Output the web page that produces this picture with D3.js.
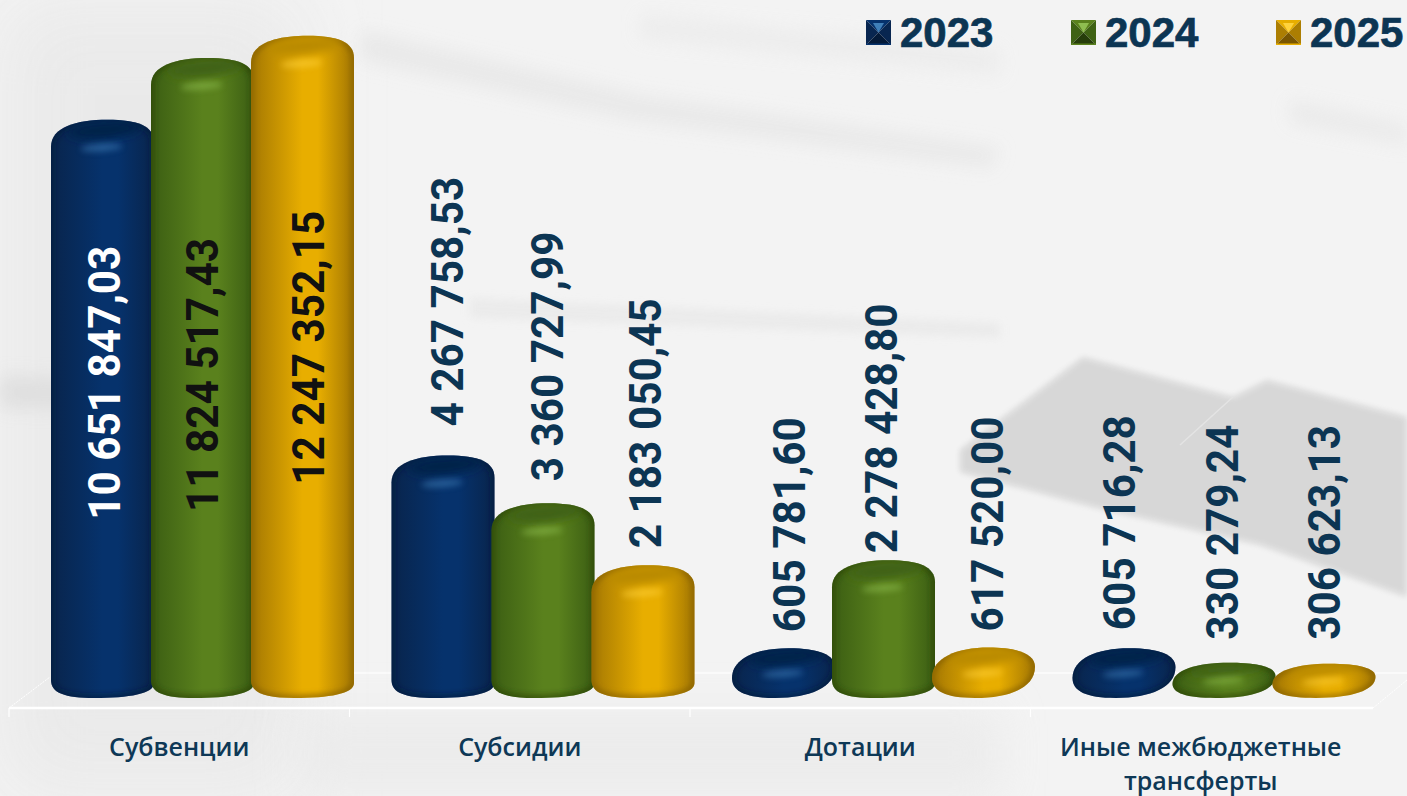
<!DOCTYPE html>
<html>
<head>
<meta charset="utf-8">
<script src="https://cdn.jsdelivr.net/npm/d3@7"></script>
<style>
  html, body { margin: 0; padding: 0; background: #f3f3f3; overflow: hidden; }
  svg { display: block; }
  .c-cat { font: 600 25px "Open Sans", sans-serif; fill: #0e3856; text-anchor: middle; }
  .c-val { font: 700 45px Roboto, sans-serif; fill: #0c3553; }
  .c-legend { font: 700 42px "Liberation Sans", sans-serif; fill: #0c3553; stroke: #0c3553; stroke-width: .7px; }
</style>
</head>
<body>
<script>
const categories = ["Субвенции", "Субсидии", "Дотации", "Иные межбюджетные|трансферты"];
const years = ["2023", "2024", "2025"];
const values2023 = [10651847.03, 4267758.53, 605781.60, 605716.28];
const values2024 = [11824517.43, 3360727.99, 2278428.80, 330279.24];
const values2025 = [12247352.15, 2183050.45, 617520.00, 306623.13];
const series = [values2023, values2024, values2025];

// hand placed in the original: distance from bar top to the label start, by year then category
const labelGaps = [
  [-400, 29, 16, 18],
  [-454, 22, 7, 23],
  [-449, 17, 16, 24]
];
const labelNudge = [[3, 5, 7, -4], [1, 5, -1, -1], [7, 3, 5, 1]];
const insideColors = ["#fff", "#111", "#111"];

const palette = [
  { edge: "#082650", mid: "#06326c", dark: "#041a38", cap: "#04224a", glow: "#3f7fb8" },
  { edge: "#3f6214", mid: "#5a811d", dark: "#263d0a", cap: "#3f6212", glow: "#8fbe50" },
  { edge: "#ac7e02", mid: "#e8ae00", dark: "#7a5600", cap: "#b98a02", glow: "#ffd23c" }
];

const W = 1407, H = 796;
const svg = d3.select("body").append("svg").attr("width", W).attr("height", H);
const defs = svg.append("defs");

[1, 2, 3, 4, 9, 22, 40].forEach(s => {
  defs.append("filter").attr("id", `blur${s}`)
    .attr("x", "-100%").attr("y", "-100%").attr("width", "300%").attr("height", "300%")
    .append("feGaussianBlur").attr("stdDeviation", s);
});

palette.forEach((p, i) => {
  const g = defs.append("linearGradient").attr("id", `body${i}`);
  [[0, p.edge], [0.06, p.edge], [0.5, p.mid], [0.65, p.mid], [0.95, p.edge], [1, p.edge]].forEach(d => {
    g.append("stop").attr("offset", d[0]).attr("stop-color", d[1]);
  });
});

drawBackground();

const x = d3.scaleBand().domain(categories).range([9, 1371]);
const xYear = d3.scaleBand().domain(years).range([42, 342]);
const y = d3.scaleLinear().domain([0, 13000000]).range([680, -3.8]);
const floorY = 698;

// Floor
const floor = svg.append("g").attr("stroke", "#fff").attr("fill", "none").attr("stroke-width", 2);
floor.append("path").attr("d", `M9,708H1373`).attr("stroke-width", 2.5);
floor.append("path").attr("d", `M9,708L50,677M1373,708L1407,680`).attr("stroke-width", 1).attr("stroke-dasharray", "2 1");
floor.append("path").attr("d", `M350,673H1407`).attr("stroke-width", 1.5).attr("opacity", .8);
categories.forEach(c => {
  floor.append("path").attr("d", `M${x(c)},708V717`).attr("stroke-width", 1.2);
});

// Bars
const bars = svg.append("g");
series.forEach((vals, s) => {
  categories.forEach((c, k) => {
    drawBar(bars, x(c) + xYear(years[s]), xYear.bandwidth() + 3, y(vals[k]), floorY, s, `${s}-${k}`);
  });
});

// Value labels
const fmt = v => {
  const [a, b] = v.toFixed(2).split(".");
  return `${a.replace(/\B(?=(\d{3})+$)/g, " ")},${b}`;
};
series.forEach((vals, s) => {
  categories.forEach((c, k) => {
    const cx = x(c) + xYear(years[s]) + xYear.bandwidth() / 2 + labelNudge[s][k];
    const py = y(vals[k]) - labelGaps[s][k];
    svg.append("text")
      .attr("class", "c-val")
      .attr("transform", `translate(${cx},${py}) rotate(-90) scale(.94,1)`)
      .attr("dy", "0.36em")
      .style("fill", k === 0 ? insideColors[s] : null)
      .text(fmt(vals[k]));
  });
});

// Category labels
categories.forEach(c => {
  const t = svg.append("text").attr("class", "c-cat")
    .attr("x", x(c) + x.bandwidth() / 2).attr("y", 756);
  c.split("|").forEach((line, i) => {
    t.append("tspan").attr("x", x(c) + x.bandwidth() / 2).attr("dy", i ? 34 : 0).text(line);
  });
});

// Legend
const legendX = d3.scalePoint().domain(years).range([866, 1276]);
years.forEach((yr, i) => {
  const lx = legendX(yr);
  drawPyramid(lx, 20, 25, palette[i]);
  svg.append("text").attr("class", "c-legend").attr("x", lx + 34).attr("y", 47).text(yr);
});

function barPath(x0, x1, top, bottom) {
  const w = x1 - x0, h = bottom - top;
  const short = h < 80;
  const capL = short ? h * 0.6 : 27;
  const capR = short ? h * 0.38 : 22;
  const botL = short ? h * 0.4 : 18;
  const botR = short ? h * 0.62 : 15;
  const k = short ? 0.34 : 0.28;
  const xT = x0 + w * 0.55, xB = x0 + w * 0.42;
  const yL0 = top + capL, yL1 = bottom - botL;
  const yR0 = top + capR, yR1 = bottom - botR;
  return `M${x0},${yL1}L${x0},${yL0}`
    + `C${x0},${top + capL * k} ${x0 + w * 0.24},${top} ${xT},${top}`
    + `C${x1 - w * 0.16},${top} ${x1},${top + capR * k} ${x1},${yR0}`
    + `L${x1},${yR1}`
    + `C${x1},${bottom - botR * k} ${x1 - w * 0.24},${bottom} ${xB},${bottom}`
    + `C${x0 + w * 0.13},${bottom} ${x0},${bottom - botL * k} ${x0},${yL1}Z`;
}

function drawBar(root, bx, bw, top, bottom, s, id) {
  const p = palette[s];
  const d = barPath(bx, bx + bw, top, bottom);
  const h = bottom - top;
  const capH = Math.min(30, h * 0.55);
  const cx = bx + bw * 0.52;

  defs.append("clipPath").attr("id", `clip${id}`).append("path").attr("d", d);

  const g = root.append("g");
  g.append("path").attr("d", d).attr("fill", `url(#body${s})`);

  const inner = g.append("g").attr("clip-path", `url(#clip${id})`);
  // inner edge shading
  inner.append("path").attr("d", d).attr("fill", "none")
    .attr("stroke", p.dark).attr("stroke-width", 4).attr("filter", "url(#blur3)");
  // recessed top
  inner.append("ellipse")
    .attr("cx", cx).attr("cy", top + capH * 0.34)
    .attr("rx", bw * 0.36).attr("ry", capH * 0.3)
    .attr("transform", `rotate(-5,${cx},${top + capH * 0.34})`)
    .attr("fill", p.cap).attr("filter", "url(#blur4)");
  // highlight under the rim
  inner.append("ellipse")
    .attr("cx", cx - bw * 0.03).attr("cy", top + capH * 0.92)
    .attr("rx", bw * 0.2).attr("ry", Math.max(3, capH * 0.12))
    .attr("transform", `rotate(-4,${cx},${top + capH * 0.92})`)
    .attr("fill", p.glow).attr("opacity", .6).attr("filter", "url(#blur3)");
}

function drawPyramid(px, py, size, p) {
  const c = size / 2, a = [px, py], b = [px + size, py];
  const e = [px + size, py + size], f = [px, py + size], m = [px + c, py + c];
  const tri = (pts, fill) => svg.append("polygon")
    .attr("points", pts.map(d => d.join(",")).join(" ")).attr("fill", fill);
  tri([a, b, m], p.mid);
  tri([b, e, m], p.edge);
  tri([f, a, m], p.edge);
  tri([e, f, m], p.dark);
  tri([[px + 7, py + 3], [px + size - 7, py + 3], m], p.glow);
  svg.append("rect").attr("x", px).attr("y", py + size - 1.5).attr("width", size).attr("height", 1.5).attr("fill", p.mid);
}

function drawBackground() {
  svg.append("rect").attr("width", W).attr("height", H).attr("fill", "#f3f3f3");
  const bg = svg.append("g");
  const blob = (pts, fill, blur, op) => bg.append("polygon")
    .attr("points", pts).attr("fill", fill).attr("opacity", op)
    .attr("filter", `url(#blur${blur})`);
  // overall tone, darker to the left and bottom
  blob("0,0 300,0 300,796 0,796", "#e9e9e9", 40, .9);
  blob("300,710 1000,710 1000,796 300,796", "#e9e9e9", 22, .7);
  // streaks
  blob("640,15 1000,50 1000,75 640,38", "#ebebeb", 9, .8);
  blob("360,30 640,95 1000,148 990,168 630,120 360,60", "#e8e8e8", 9, .9);
  blob("1290,100 1407,125 1407,145 1290,122", "#e8e8e8", 9, .8);
  blob("470,298 1000,323 1000,338 470,318", "#eaeaea", 4, .9);
  blob("0,375 335,390 335,415 0,408", "#dedede", 9, .9);
  // shadow tiles
  blob("960,450 1083,357 1233,397 1267,380 1407,417 1407,597 1260,545 1093,507 960,472", "#d6d6d6", 3, .95);
  bg.append("path").attr("d", "M1233,397L1180,445").attr("stroke", "#e4e4e4").attr("stroke-width", 1.5).attr("fill", "none");
}
</script>
</body>
</html>
